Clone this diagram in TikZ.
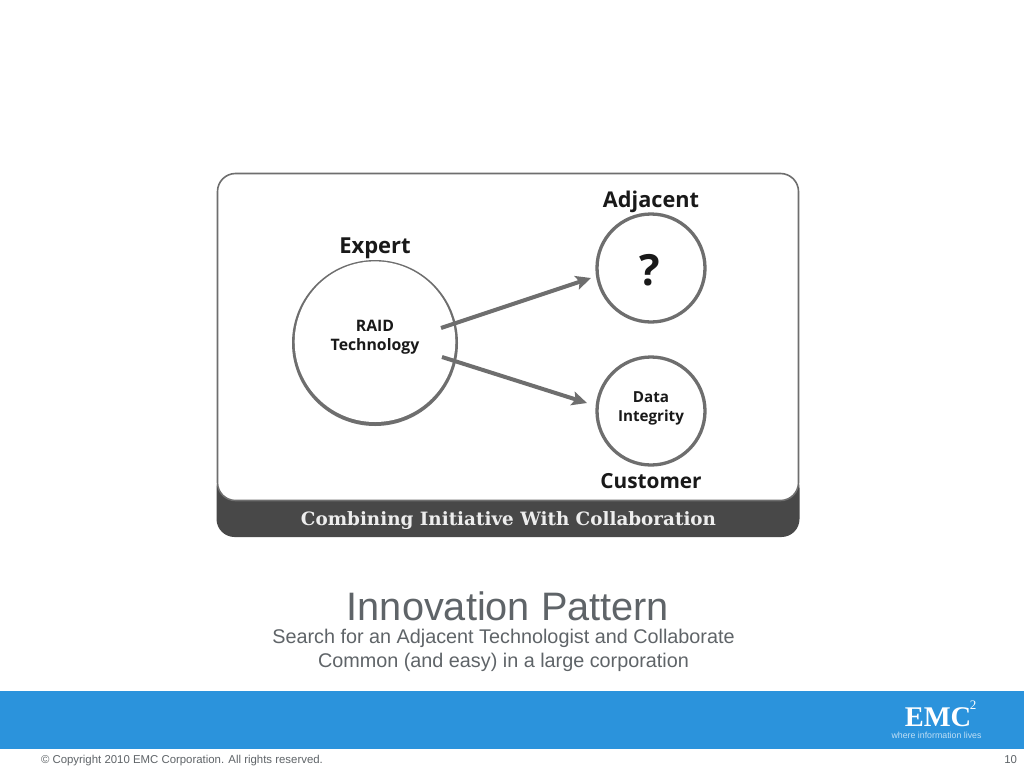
\documentclass[tikz,border=0pt]{standalone}
\usepackage{fontspec}
\setmainfont{Liberation Sans}
\newfontfamily\labelfont{Open Sans}
\newfontfamily\bannerfont{DejaVu Serif}
\newfontfamily\logofont{Liberation Serif}
\usetikzlibrary{arrows.meta}
\definecolor{ringgray}{HTML}{6E6E6E}
\definecolor{bandgray}{HTML}{484848}
\definecolor{inkgray}{HTML}{5F6468}
\definecolor{bandblue}{HTML}{2B93DC}
\tikzset{
  x=1pt,y=-1pt,
  every node/.style={inner sep=0pt,outer sep=0pt},
  ring/.style={circle,draw=ringgray,fill=white,line width=#1},
  head/.style={font=\labelfont\bfseries\fontsize{22}{24}\selectfont,text=black!90},
  inner/.style={font=\labelfont\bfseries\fontsize{15.8}{19}\selectfont,align=center,text=black!90},
  flow/.style={draw=ringgray,line width=4pt,-{Stealth[length=15pt,width=14pt,inset=3pt]}},
  caption/.style={font=\fontsize{19.8}{24}\selectfont,text=inkgray,align=center},
  foot/.style={font=\fontsize{11.4}{13}\selectfont,text=inkgray},
}
\begin{document}
\begin{tikzpicture}
\useasboundingbox (0,0) rectangle (1024,768);
\fill[white] (0,0) rectangle (1024,768);
% panel
\fill[bandgray,rounded corners=18pt] (216.5,470) rectangle (799.5,537);
\draw[ringgray,line width=1.6pt,fill=white,rounded corners=18pt] (217.5,173.5) rectangle (798.5,500.5);
% expert circle: a grey disc with a white disc set slightly high, so that the lower edge is thicker
\node[circle,fill=ringgray,minimum size=166pt] (expert) at (375,343) {};
\fill[white] (375,341.7) circle[radius=80.3];
\node[ring=3.3pt,minimum size=108pt] (adjacent) at (651,268) {};
\node[ring=3.3pt,minimum size=108pt] (data) at (651,411) {};
\node[head] (experthead) at (375,248) {Expert};
\node[head,font=\labelfont\bfseries\fontsize{21.7}{24}\selectfont] (adjhead) at (651,201.5) {Adjacent};
\node[head,font=\labelfont\bfseries\fontsize{20.8}{24}\selectfont] (custhead) at (651,481) {Customer};
\node[inner] (raid) at (375,337) {RAID\\Technology};
\node[inner,font=\labelfont\bfseries\fontsize{15.2}{19}\selectfont] (dataint) at (651,408) {Data\\Integrity};
\node[font=\labelfont\bfseries\fontsize{43}{46}\selectfont,text=black!90] (question) at (650,270) {?};
\coordinate (s1) at (441,328);
\coordinate (e1) at (591,278);
\coordinate (s2) at (442,357);
\coordinate (e2) at (587,403);
\draw[flow] (s1) -- (e1);
\draw[flow] (s2) -- (e2);
\node[font=\bannerfont\bfseries\fontsize{18.35}{24}\selectfont,text=white!93!black] (banner) at (508.5,520.5) {Combining Initiative With Collaboration};
% captions
\node[font=\fontsize{39.7}{42}\selectfont,text=inkgray] (title) at (508,606.5) {Innovation Pattern};
\node[caption] (sub) at (503.5,650) {Search for an Adjacent Technologist and Collaborate\\Common (and easy) in a large corporation};
% footer
\fill[bandblue] (0,691) rectangle (1024,749);
\node[font=\logofont\bfseries\fontsize{28.5}{30}\selectfont,text=white] (emc) at (938,717) {EMC};
\node[font=\logofont\fontsize{13}{14}\selectfont,text=white] (two) at (973,705.5) {2};
\node[font=\fontsize{8.8}{10}\selectfont,text=white!70!bandblue] (tag) at (936.5,735) {where information lives};
\node[foot,anchor=west] (copy) at (41,760.3) {© Copyright 2010 EMC Corporation. All rights reserved.};
\node[foot,anchor=east] (page) at (1017,759.5) {10};
\end{tikzpicture}
\end{document}
